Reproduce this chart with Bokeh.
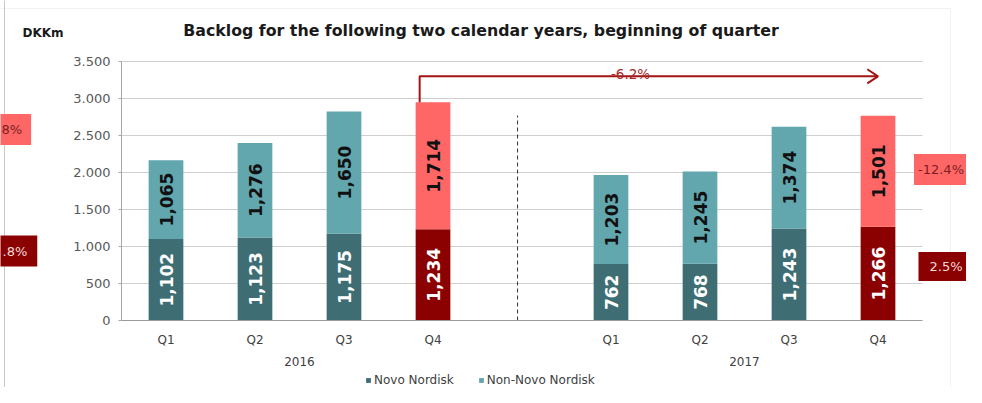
import math
from bokeh.plotting import figure
from bokeh.models import (Range1d, ColumnDataSource, FixedTicker, LinearAxis,
                          CustomJSTickFormatter, Label, BoxAnnotation, Span, Legend, LegendItem)
from bokeh.core.properties import value
from bokeh.embed import file_html
from bokeh.resources import INLINE

# ---------------- data ----------------
years = ["2016", "2017"]
quarters = ["Q1", "Q2", "Q3", "Q4"]
novo_nordisk = [1102, 1123, 1175, 1234, 762, 768, 1243, 1266]
non_novo_nordisk = [1065, 1276, 1650, 1714, 1203, 1245, 1374, 1501]
series_names = ["Novo Nordisk", "Non-Novo Nordisk"]
y_ticks = [0, 500, 1000, 1500, 2000, 2500, 3000, 3500]
title_text = "Backlog for the following two calendar years, beginning of quarter"
unit_text = "DKKm"
total_change_label = "-6.2%"
q4_non_change_label = "-12.4%"
q4_novo_change_label = "2.5%"
left_non_label = "8%"
left_novo_label = ".8%"

# ---------------- layout / styles ----------------
W, H = 966, 387
SLOT_PX = 89.0          # pixels per category slot
FIRST_SLOT_PX = 165.5   # centre of first category, px from left
ZERO_PX = 320.0         # y pixel of value 0
PX_PER_UNIT = 259.0 / 3500.0
FONT = "DejaVu Sans"
DARK_TEAL = "#3E6E74"
LIGHT_TEAL = "#62A6AE"
DARK_RED = "#8B0000"
PINK = "#FF6666"
ARROW_RED = "#A31515"

step = len(quarters) + 1                      # one empty slot between years
xs = [yi * step + qi for yi in range(len(years)) for qi in range(len(quarters))]
x_labels = [q for _ in years for q in quarters]
year_centers = [yi * step + (len(quarters) - 1) / 2 for yi in range(len(years))]
slot_lo, slot_hi = -0.5, xs[-1] + 0.5
highlight = [q == quarters[-1] for q in x_labels]
totals = [a + b for a, b in zip(novo_nordisk, non_novo_nordisk)]

src = ColumnDataSource(dict(
    x=xs,
    nn=novo_nordisk,
    tot=totals,
    nn_mid=[a / 2 for a in novo_nordisk],
    non_mid=[a + b / 2 for a, b in zip(novo_nordisk, non_novo_nordisk)],
    nn_txt=[f"{v:,}" for v in novo_nordisk],
    non_txt=[f"{v:,}" for v in non_novo_nordisk],
    nn_color=[DARK_RED if h else DARK_TEAL for h in highlight],
    non_color=[PINK if h else LIGHT_TEAL for h in highlight],
))

p = figure(
    x_range=Range1d(-FIRST_SLOT_PX / SLOT_PX, (W - FIRST_SLOT_PX) / SLOT_PX),
    y_range=Range1d(-(H - ZERO_PX) / PX_PER_UNIT, ZERO_PX / PX_PER_UNIT),
    width=W, height=H, output_backend="svg", toolbar_location=None,
    x_axis_type=None, y_axis_type=None,
    min_border_left=0, min_border_right=0, min_border_top=0, min_border_bottom=0,
)
p.title.visible = False
p.outline_line_color = None
p.background_fill_color = "white"
p.border_fill_color = "white"
p.xgrid.visible = False
p.ygrid.visible = False

# chart-area border lines
p.add_layout(BoxAnnotation(left=-20, right=950, top=H - 8, bottom=-20,
                           left_units="screen", right_units="screen",
                           top_units="screen", bottom_units="screen",
                           fill_color=None, line_color="#d4d4d4", line_width=1))
p.add_layout(Span(location=4, location_units="screen", dimension="height",
                  line_color="#c8c8c8", line_width=1))

# horizontal grid lines, limited to the category area
p.segment(x0=slot_lo, x1=slot_hi, y0=y_ticks[1:], y1=y_ticks[1:],
          line_color="#cfcfcf", line_width=1)

# axes (drawn at fixed data positions)
yax = LinearAxis(fixed_location=slot_lo, bounds=(y_ticks[0], y_ticks[-1]))
yax.ticker = FixedTicker(ticks=y_ticks)
yax.formatter = CustomJSTickFormatter(
    code="return tick.toFixed(0).replace(/\\B(?=(\\d{3})+(?!\\d))/g, '.');")
yax.major_label_text_font = FONT
yax.major_label_text_font_size = "13px"
yax.major_label_text_color = "#595959"
yax.axis_line_color = "#a6a6a6"
yax.major_tick_line_color = "#a6a6a6"
yax.major_tick_out = 3
yax.major_tick_in = 0
yax.minor_tick_line_color = None
yax.major_label_standoff = 8
p.add_layout(yax, "left")

xax = LinearAxis(fixed_location=0, bounds=(slot_lo, slot_hi))
xax.ticker = FixedTicker(ticks=xs)
xax.formatter = CustomJSTickFormatter(args=dict(labels=x_labels), code="return labels[index];")
xax.major_label_text_font = FONT
xax.major_label_text_font_size = "12px"
xax.major_label_text_color = "#404040"
xax.axis_line_color = "#9a9a9a"
xax.major_tick_line_color = None
xax.major_tick_out = 0
xax.major_tick_in = 0
xax.minor_tick_line_color = None
xax.major_label_standoff = 12
p.add_layout(xax, "below")

yearax = LinearAxis(fixed_location=0)
yearax.ticker = FixedTicker(ticks=year_centers)
yearax.formatter = CustomJSTickFormatter(args=dict(labels=years), code="return labels[index];")
yearax.major_label_text_font = FONT
yearax.major_label_text_font_size = "12px"
yearax.major_label_text_color = "#404040"
yearax.axis_line_color = None
yearax.major_tick_line_color = None
yearax.major_tick_out = 0
yearax.major_tick_in = 0
yearax.minor_tick_line_color = None
yearax.major_label_standoff = 36
p.add_layout(yearax, "below")

# bars
r_nn = p.vbar(x="x", top="nn", bottom=0, width=0.39, fill_color="nn_color",
              line_color=None, source=src)
r_non = p.vbar(x="x", top="tot", bottom="nn", width=0.39, fill_color="non_color",
               line_color=None, source=src)

p.text(x="x", y="nn_mid", text="nn_txt", angle=math.pi / 2, text_align="center",
       text_baseline="middle", text_font=value(FONT), text_font_style="bold",
       text_font_size="17px", text_color="white", source=src)
p.text(x="x", y="non_mid", text="non_txt", angle=math.pi / 2, text_align="center",
       text_baseline="middle", text_font=value(FONT), text_font_style="bold",
       text_font_size="17px", text_color="#111111", source=src)

# dashed separator in the empty slot between the years
sep_x = len(quarters) - 0.05
p.line(x=[sep_x, sep_x], y=[0, 2770], line_dash="4 3", line_color="#333333", line_width=1)

# change arrow from 2016 Q4 to 2017 Q4
arrow_y = 3300
x_start = xs[len(quarters) - 1] - 0.15
x_end = xs[-1]
p.line(x=[x_start, x_start, x_end], y=[totals[len(quarters) - 1], arrow_y, arrow_y],
       line_color=ARROW_RED, line_width=2)
p.line(x=[x_end - 0.12, x_end, x_end - 0.12], y=[arrow_y + 95, arrow_y, arrow_y - 95],
       line_color=ARROW_RED, line_width=2)
p.text(x=[xs[len(quarters)] + 0.22], y=[3335], text=[total_change_label],
       text_align="center", text_baseline="alphabetic", text_font=value(FONT),
       text_font_size="13.5px", text_color="#A52A2A")

# title and unit
p.add_layout(Label(x=480.5, y=H - 30, x_units="screen", y_units="screen", text=title_text,
                   text_align="center", text_baseline="alphabetic", text_font=FONT,
                   text_font_style="bold", text_font_size="15.8px", text_color="#1a1a1a"))
p.add_layout(Label(x=22, y=H - 32, x_units="screen", y_units="screen", text=unit_text,
                   text_align="left", text_baseline="alphabetic", text_font=FONT,
                   text_font_style="bold", text_font_size="12px", text_color="#1a1a1a"))

# side change boxes (padding = (horizontal, vertical)); x is the box anchor
def box(x, y, text, align, bg, fg, pad):
    p.add_layout(Label(x=x, y=H - y, x_units="screen", y_units="screen", text=text,
                       text_align=align, text_baseline="middle", text_font=FONT,
                       text_font_size="13px", text_color=fg,
                       background_fill_color=bg, padding=pad))

box(940.5, 169, q4_non_change_label, "center", PINK, "#7a1f1f", (4, 8))
box(945.5, 266, q4_novo_change_label, "center", DARK_RED, "#f2dcdb", (11, 7))
box(-8, 129, left_non_label, "left", PINK, "#7a1f1f", (9, 8))
box(-8, 250.5, left_novo_label, "left", DARK_RED, "#f2dcdb", (10, 8))

legend = Legend(items=[LegendItem(label=series_names[0], renderers=[r_nn], index=0),
                       LegendItem(label=series_names[1], renderers=[r_non], index=0)],
                orientation="horizontal", location=(365, 0), glyph_width=6, glyph_height=6,
                label_standoff=3, spacing=24, padding=0, margin=0,
                border_line_color=None, background_fill_alpha=0,
                label_text_font=FONT, label_text_font_size="12px", label_height=12,
                label_text_color="#404040")
p.add_layout(legend, "center")

open("out.html", "w").write(file_html(p, INLINE))
